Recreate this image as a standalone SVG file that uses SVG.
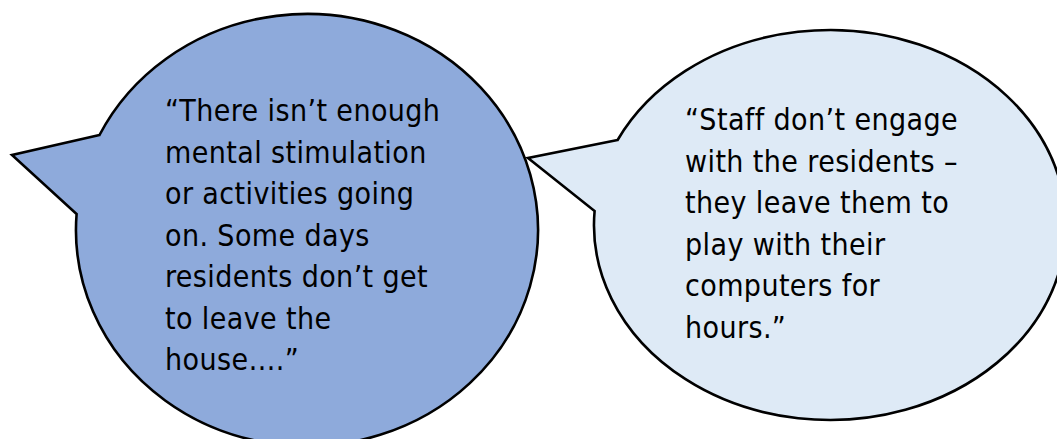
<svg xmlns="http://www.w3.org/2000/svg" width="1057" height="439" viewBox="0 0 1057 439">
<style>
.bubble{stroke:#000;stroke-width:2.6;stroke-linejoin:miter}
.b1{fill:#8EAADB}
.b2{fill:#DEEAF6}
.t{font-family:'DejaVu Sans Condensed','DejaVu Sans',sans-serif;font-stretch:condensed;font-size:30px;letter-spacing:0.4px;fill:#000}
</style>
<rect width="1057" height="439" fill="#fff"/>
<g id="bubble-left">
<path class="bubble b1" d="M99.5,135 L12,155 L76.6,214 A231,216 0 1 0 99.5,135 Z"/>
<text class="t" x="165" y="121">“There isn’t enough</text>
<text class="t" x="165" y="162.5">mental stimulation</text>
<text class="t" x="165" y="204">or activities going</text>
<text class="t" x="165" y="245.5">on. Some days</text>
<text class="t" x="165" y="287">residents don’t get</text>
<text class="t" x="165" y="328.5">to leave the</text>
<text class="t" x="165" y="370">house….”</text>
</g>
<g id="bubble-right">
<path class="bubble b2" d="M617.6,140 L528,158 L594.6,211 A236,195 0 1 0 617.6,140 Z"/>
<text class="t" x="685" y="130">“Staff don’t engage</text>
<text class="t" x="685" y="171.5">with the residents –</text>
<text class="t" x="685" y="213">they leave them to</text>
<text class="t" x="685" y="254.5">play with their</text>
<text class="t" x="685" y="296">computers for</text>
<text class="t" x="685" y="337.5">hours.”</text>
</g>
<g id="connectors"/>
</svg>
